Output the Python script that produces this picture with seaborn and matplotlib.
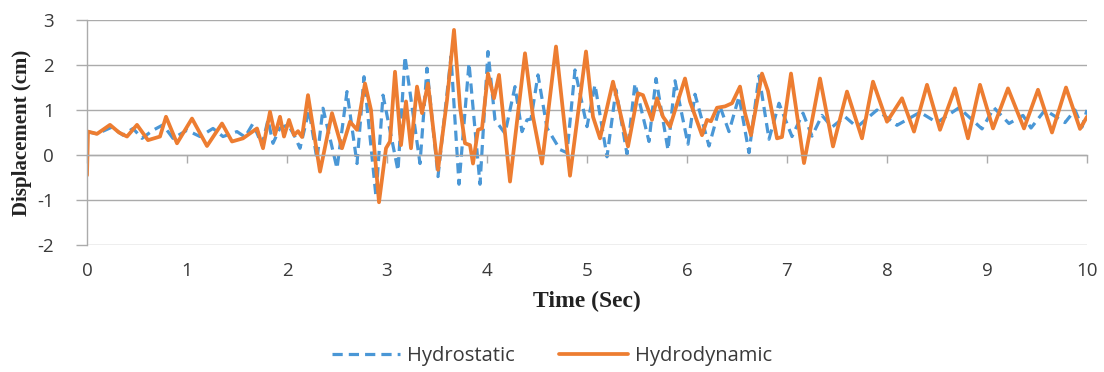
import matplotlib
matplotlib.use("Agg")
import matplotlib.pyplot as plt
import pandas as pd
import seaborn as sns

# Hydrostatic model: displacement (cm) over time (s)
time_static = [0.00, 0.10, 0.25, 0.36, 0.46, 0.55, 0.66, 0.76, 0.86, 1.00,
               1.13, 1.26, 1.36, 1.50, 1.58, 1.66, 1.75, 1.81, 1.86, 1.93,
               2.01, 2.07, 2.13, 2.22, 2.30, 2.36, 2.50, 2.60, 2.70, 2.77,
               2.89, 2.96, 3.11, 3.18, 3.33, 3.40, 3.51, 3.64, 3.72, 3.82,
               3.93, 4.01, 4.08, 4.18, 4.28, 4.35, 4.40, 4.44, 4.51, 4.60,
               4.73, 4.80, 4.88, 5.00, 5.08, 5.20, 5.29, 5.40, 5.48, 5.62,
               5.69, 5.81, 5.88, 6.01, 6.08, 6.22, 6.33, 6.42, 6.52, 6.62,
               6.72, 6.82, 6.92, 7.05, 7.16, 7.25, 7.35, 7.45, 7.58, 7.70,
               7.90, 8.10, 8.33, 8.50, 8.72, 8.95, 9.07, 9.22, 9.36, 9.44,
               9.58, 9.78, 9.88, 9.95, 10.00]
disp_static = [0.52, 0.47, 0.62, 0.44, 0.59, 0.37, 0.55, 0.67, 0.37, 0.55,
               0.41, 0.59, 0.41, 0.52, 0.40, 0.70, 0.22, 0.78, 0.26, 0.60,
               0.67, 0.45, 0.15, 1.00, -0.10, 1.04, -0.30, 1.41, -0.19, 1.74,
               -0.93, 1.33, -0.35, 2.19, -0.19, 1.93, -0.48, 2.19, -0.65, 2.04,
               -0.65, 2.30, 0.78, 0.48, 1.52, 0.52, 0.78, 0.80, 1.78, 0.60,
               0.12, 0.05, 1.89, 0.63, 1.56, -0.04, 1.45, 0.02, 1.59, 0.30,
               1.70, 0.11, 1.65, 0.24, 1.35, 0.20, 1.08, 0.52, 1.30, 0.05,
               1.76, 0.35, 1.15, 0.41, 0.93, 0.42, 0.88, 0.62, 0.85, 0.62,
               1.00, 0.66, 0.95, 0.72, 1.05, 0.58, 1.05, 0.70, 0.88, 0.60,
               1.00, 0.72, 1.00, 0.62, 1.00]

# Hydrodynamic model: displacement (cm) over time (s)
time_dynamic = [0.00, 0.01, 0.10, 0.23, 0.32, 0.40, 0.50, 0.61, 0.73, 0.79,
                0.90, 1.05, 1.20, 1.35, 1.45, 1.56, 1.70, 1.76, 1.83, 1.88,
                1.93, 1.97, 2.02, 2.07, 2.11, 2.15, 2.21, 2.33, 2.45, 2.55,
                2.63, 2.70, 2.78, 2.84, 2.92, 2.99, 3.03, 3.08, 3.14, 3.19,
                3.24, 3.30, 3.35, 3.41, 3.51, 3.60, 3.67, 3.73, 3.78, 3.83,
                3.86, 3.91, 3.95, 4.01, 4.07, 4.12, 4.23, 4.38, 4.46, 4.55,
                4.69, 4.83, 4.99, 5.06, 5.13, 5.26, 5.41, 5.51, 5.56, 5.65,
                5.70, 5.76, 5.83, 5.93, 5.98, 6.03, 6.15, 6.20, 6.24, 6.30,
                6.38, 6.45, 6.53, 6.58, 6.64, 6.75, 6.81, 6.90, 6.95, 7.04,
                7.17, 7.33, 7.46, 7.60, 7.75, 7.86, 8.00, 8.15, 8.27, 8.40,
                8.53, 8.68, 8.81, 8.93, 9.06, 9.21, 9.37, 9.51, 9.65, 9.79,
                9.93, 10.00]
disp_dynamic = [-0.45, 0.52, 0.47, 0.67, 0.50, 0.41, 0.67, 0.33, 0.41, 0.85,
                0.26, 0.81, 0.20, 0.70, 0.30, 0.37, 0.59, 0.15, 0.96, 0.45,
                0.85, 0.41, 0.78, 0.44, 0.53, 0.40, 1.33, -0.37, 0.93, 0.15,
                0.74, 0.56, 1.59, 1.00, -1.05, 0.15, 0.30, 1.85, 0.22, 1.19,
                0.15, 1.52, 0.93, 1.59, -0.33, 1.22, 2.78, 1.07, 0.26, 0.22,
                -0.19, 0.56, 0.59, 1.81, 1.26, 1.78, -0.59, 2.26, 0.85, -0.19,
                2.41, -0.46, 2.30, 0.85, 0.37, 1.63, 0.19, 1.37, 1.33, 0.78,
                1.26, 0.85, 0.63, 1.35, 1.70, 1.19, 0.44, 0.78, 0.75, 1.05,
                1.08, 1.15, 1.52, 0.93, 0.44, 1.81, 1.42, 0.37, 0.40, 1.81,
                -0.18, 1.70, 0.19, 1.41, 0.37, 1.63, 0.74, 1.26, 0.52, 1.56,
                0.56, 1.48, 0.37, 1.56, 0.59, 1.48, 0.59, 1.45, 0.50, 1.50,
                0.58, 0.85]

x_ticks = list(range(0, 11))
y_ticks = [-2, -1, 0, 1, 2, 3]

static_df = pd.DataFrame({"Time": time_static, "Displacement": disp_static})
dynamic_df = pd.DataFrame({"Time": time_dynamic, "Displacement": disp_dynamic})

sns.set_theme(style="white")
plt.rcParams["font.family"] = ["Open Sans", "DejaVu Sans"]
plt.rcParams["axes.unicode_minus"] = False

GRID = "#ABABAB"
BLUE = "#4A97D6"
ORANGE = "#ED7D31"
TEXT = "#3A3A3A"

fig = plt.figure(figsize=(11.04, 3.72), dpi=100)
ax = fig.add_axes([87 / 1104, 1 - 245 / 372, 1000 / 1104, 225 / 372])

sns.lineplot(data=static_df, x="Time", y="Displacement", ax=ax,
             color=BLUE, linewidth=2.3, estimator=None, sort=False,
             label="Hydrostatic")
sns.lineplot(data=dynamic_df, x="Time", y="Displacement", ax=ax,
             color=ORANGE, linewidth=2.7, estimator=None, sort=False,
             label="Hydrodynamic")
ax.lines[0].set_dashes((3.2, 1.9))
ax.lines[0].set_dash_capstyle("butt")
ax.lines[0].set_dash_joinstyle("round")
ax.lines[1].set_solid_joinstyle("round")
ax.lines[1].set_solid_capstyle("round")

ax.set_xlim(0, 10)
ax.set_ylim(-2, 3)
ax.set_xticks(x_ticks)
ax.set_yticks(y_ticks)
ax.set_xticklabels([str(v) for v in x_ticks])
ax.set_yticklabels([str(v) for v in y_ticks])

ax.yaxis.grid(True, color=GRID, linewidth=1.0)
ax.xaxis.grid(False)
ax.set_axisbelow(True)

for side in ("top", "right"):
    ax.spines[side].set_visible(False)
ax.spines["left"].set_color(GRID)
ax.spines["left"].set_linewidth(1.0)
ax.spines["bottom"].set_position(("data", 0))
ax.spines["bottom"].set_color(GRID)
ax.spines["bottom"].set_linewidth(1.0)

ax.tick_params(axis="x", direction="out", length=6, width=1, color=GRID,
               labelsize=13.5, labelcolor=TEXT, pad=71, bottom=True)
ax.tick_params(axis="y", direction="out", length=8, width=1, color=GRID,
               labelsize=13.5, labelcolor=TEXT, pad=16, left=True)

ax.set_xlabel("Time (Sec)", family="Liberation Serif", fontweight="bold",
              fontsize=17, color="#222222")
ax.xaxis.set_label_coords(0.5, -0.205)
ax.set_ylabel("Displacement (cm)", family="Liberation Serif",
              fontweight="bold", fontsize=15, color="#222222")
ax.yaxis.set_label_coords(-0.055, 0.5)

ax.get_legend().remove()
handles, labels = ax.get_legend_handles_labels()
fig.legend(handles, labels, loc="center", bbox_to_anchor=(0.5, 1 - 356 / 372),
           ncol=2, frameon=False, fontsize=14.5, handlelength=3.4,
           handletextpad=0.35, columnspacing=2.2, labelcolor=TEXT)

fig.savefig("out.png", dpi=100)
